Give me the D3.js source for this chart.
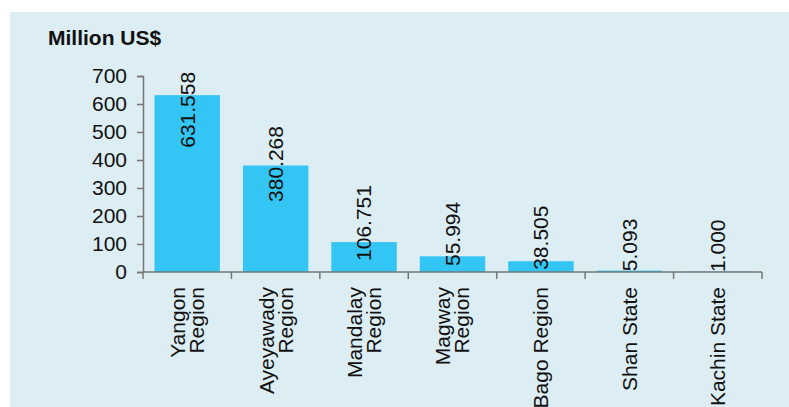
<!DOCTYPE html>
<html>
<head>
<meta charset="utf-8">
<script src="https://cdn.jsdelivr.net/npm/d3@7"></script>
<style>
  body { margin: 0; background: #fff; }
  svg { display: block; font-family: "Liberation Sans", Arial, sans-serif; }
</style>
</head>
<body>
<div id="chart"></div>
<script>
// data
const regions = [
    ["Yangon", "Region"],
    ["Ayeyawady", "Region"],
    ["Mandalay", "Region"],
    ["Magway", "Region"],
    ["Bago Region"],
    ["Shan State"],
    ["Kachin State"]
];
const values = [631.558, 380.268, 106.751, 55.994, 38.505, 5.093, 1.000];
const yTicks = [0, 100, 200, 300, 400, 500, 600, 700];

const width = 789, height = 407;
const margin = { top: 76, right: 27, bottom: 135, left: 143 };

const svg = d3.select("#chart").append("svg")
    .attr("width", width)
    .attr("height", height);

// light blue panel
svg.append("rect")
    .attr("x", 10)
    .attr("y", 12)
    .attr("width", width - 10)
    .attr("height", height - 12)
    .attr("fill", "#dcedf4");

const graph = svg.append("g")
    .attr("transform", `translate(${margin.left},${margin.top})`);

const graphWidth = width - margin.left - margin.right;
const graphHeight = height - margin.top - margin.bottom;

const keys = regions.map(d => d.join(" "));

const x = d3.scaleBand()
    .domain(keys)
    .range([0, graphWidth])
    .paddingInner(0.26)
    .paddingOuter(0.13);

const y = d3.scaleLinear()
    .domain([0, 700])
    .range([graphHeight, 0]);

// bars
graph.selectAll("rect.bar")
    .data(values)
    .enter()
    .append("rect")
    .attr("class", "bar")
    .attr("x", (d, i) => x(keys[i]))
    .attr("y", d => y(d))
    .attr("width", x.bandwidth())
    .attr("height", d => graphHeight - y(d))
    .attr("fill", "#33c5f3");

// y axis
const yAxis = d3.axisLeft(y)
    .tickValues(yTicks)
    .tickSize(6)
    .tickPadding(10);
const yAxisGroup = graph.append("g").call(yAxis);
yAxisGroup.select(".domain").attr("stroke", "#767676").attr("stroke-width", 1.5);
yAxisGroup.selectAll(".tick line").attr("stroke", "#767676").attr("stroke-width", 1.5);
yAxisGroup.selectAll("text")
    .style("font-size", "21px")
    .attr("fill", "#111");

// x axis: ticks between categories
const step = x.step();
const boundaries = d3.range(keys.length + 1).map(i => i * step);
const xAxisGroup = graph.append("g")
    .attr("transform", `translate(0,${graphHeight})`);
xAxisGroup.append("line")
    .attr("x1", 0)
    .attr("x2", graphWidth)
    .attr("stroke", "#767676")
    .attr("stroke-width", 1.5);
xAxisGroup.selectAll("line.tick")
    .data(boundaries)
    .enter()
    .append("line")
    .attr("class", "tick")
    .attr("x1", d => d)
    .attr("x2", d => d)
    .attr("y1", 0)
    .attr("y2", 7)
    .attr("stroke", "#767676")
    .attr("stroke-width", 1.5);

// category labels, rotated
const lineGap = 19;
regions.forEach((lines, i) => {
    const cx = x(keys[i]) + x.bandwidth() / 2;
    lines.forEach((txt, j) => {
        const off = (j - (lines.length - 1) / 2) * lineGap;
        xAxisGroup.append("text")
            .attr("transform", `translate(${cx + off},15) rotate(-90)`)
            .attr("text-anchor", "end")
            .attr("dy", "0.35em")
            .style("font-size", "21px")
            .attr("fill", "#111")
            .text(txt);
    });
});

// value labels, rotated
graph.selectAll("text.value")
    .data(values)
    .enter()
    .append("text")
    .attr("class", "value")
    .attr("transform", (d, i) => {
        const cx = x(keys[i]) + x.bandwidth() / 2;
        const cy = graphHeight - 26 + 0.77 * (y(d) - graphHeight);
        return `translate(${cx},${cy}) rotate(-90)`;
    })
    .attr("text-anchor", "middle")
    .attr("dy", "0.35em")
    .style("font-size", "21px")
    .attr("fill", "#111")
    .text(d => d.toFixed(3));

// unit title
svg.append("text")
    .attr("x", 48)
    .attr("y", 45)
    .style("font-size", "21px")
    .style("font-weight", "bold")
    .attr("fill", "#111")
    .text("Million US$");
</script>
</body>
</html>
